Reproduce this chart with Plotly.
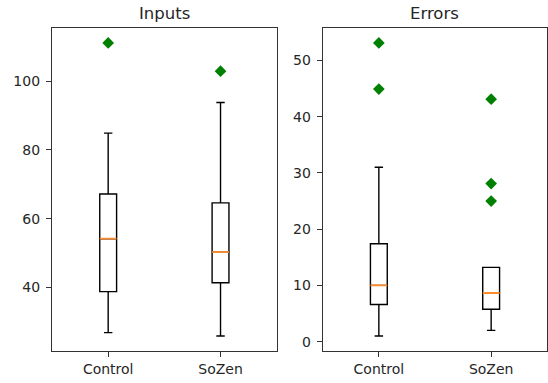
import plotly.graph_objects as go

# ---- data ----
groups = ["Control", "SoZen"]
positions = [1, 2]

inputs_q1 = [38.8, 41.4]
inputs_median = [54.2, 50.3]
inputs_q3 = [67.2, 64.6]
inputs_low = [26.9, 25.9]
inputs_high = [84.9, 93.8]
inputs_fliers = [[111.1], [102.9]]

errors_q1 = [6.6, 5.75]
errors_median = [10.0, 8.65]
errors_q3 = [17.4, 13.2]
errors_low = [1.0, 2.0]
errors_high = [31.0, 13.2]
errors_fliers = [[53.1, 44.9], [43.1, 28.1, 25.0]]

titles = ["Inputs", "Errors"]

W, H = 548, 383
fig = go.Figure()

FONT = "DejaVu Sans"
AX_COLOR = "#333333"


def add_panel(xa, ya, q1, med, q3, low, high, fliers):
    for i, p in enumerate(positions):
        fig.add_trace(go.Box(
            x=[p], q1=[q1[i]], median=[med[i]], q3=[q3[i]],
            lowerfence=[low[i]], upperfence=[high[i]],
            width=0.15, whiskerwidth=0.5,
            fillcolor="rgba(0,0,0,0)", line=dict(color="black", width=1.4),
            boxpoints=False, showlegend=False, hoverinfo="skip",
            xaxis=xa, yaxis=ya,
        ))
        # coloured median line drawn over the black one
        fig.add_trace(go.Box(
            x=[p], q1=[med[i]], median=[med[i]], q3=[med[i]],
            lowerfence=[med[i]], upperfence=[med[i]],
            width=0.15, whiskerwidth=0,
            fillcolor="rgba(0,0,0,0)", line=dict(color="#ff8c2a", width=1.8),
            boxpoints=False, showlegend=False, hoverinfo="skip",
            xaxis=xa, yaxis=ya,
        ))
        fig.add_trace(go.Scatter(
            x=[p] * len(fliers[i]), y=fliers[i], mode="markers",
            marker=dict(symbol="diamond", size=9, color="#008000",
                        line=dict(width=0)),
            showlegend=False, hoverinfo="skip", xaxis=xa, yaxis=ya,
        ))


add_panel("x", "y", inputs_q1, inputs_median, inputs_q3, inputs_low, inputs_high, inputs_fliers)
add_panel("x2", "y2", errors_q1, errors_median, errors_q3, errors_low, errors_high, errors_fliers)


def padded(*lists):
    vals = []
    for l in lists:
        for v in l:
            if isinstance(v, list):
                vals.extend(v)
            else:
                vals.append(v)
    lo, hi = min(vals), max(vals)
    m = (hi - lo) * 0.05
    return [lo - m, hi + m]


r1 = padded(inputs_low, inputs_high, inputs_fliers)
r2 = padded(errors_low, errors_high, errors_fliers)

ydom = [1 - 350.7 / H, 1 - 28.3 / H]
xdom1 = [52 / W, 276.7 / W]
xdom2 = [322.7 / W, 547.3 / W]

common_axis = dict(
    showline=True, mirror=True, linecolor=AX_COLOR, linewidth=1.2,
    ticks="outside", ticklen=5, tickwidth=1, tickcolor=AX_COLOR,
    showgrid=False, zeroline=False, automargin=False,
    tickfont=dict(family=FONT, size=14, color="#262626"),
)

fig.update_layout(
    width=W, height=H,
    margin=dict(l=0, r=0, t=0, b=0, autoexpand=False),
    paper_bgcolor="white", plot_bgcolor="white",
    boxmode="overlay",
    xaxis=dict(domain=xdom1, range=[0.5, 2.5], tickvals=positions, ticktext=groups,
               anchor="y", **common_axis),
    yaxis=dict(domain=ydom, range=r1, dtick=20, anchor="x", ticklabelstandoff=3,
               **common_axis),
    xaxis2=dict(domain=xdom2, range=[0.5, 2.5], tickvals=positions, ticktext=groups,
                anchor="y2", **common_axis),
    yaxis2=dict(domain=ydom, range=r2, dtick=10, anchor="x2", ticklabelstandoff=3,
                **common_axis),
)

for t, dom in zip(titles, [xdom1, xdom2]):
    fig.add_annotation(
        text=t, xref="paper", yref="paper",
        x=(dom[0] + dom[1]) / 2, y=1 - 25 / H,
        xanchor="center", yanchor="bottom", showarrow=False,
        font=dict(family=FONT, size=16.5, color="#262626"),
    )

fig.write_html(
    "out.html",
    config={"displayModeBar": False},
    post_script="document.body.style.margin='0';document.body.style.overflow='hidden';",
)
